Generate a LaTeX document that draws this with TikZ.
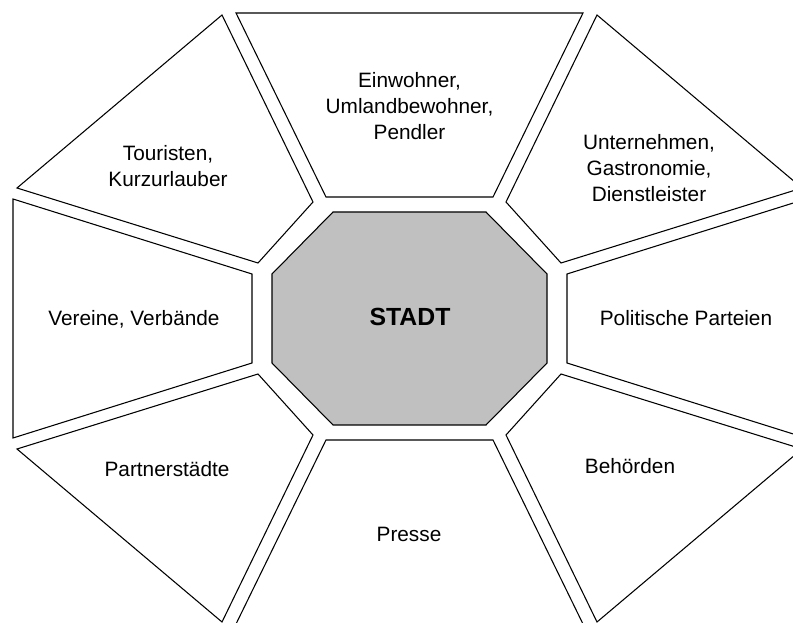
\documentclass[tikz,border=0pt]{standalone}
\usepackage{fontspec}
\setmainfont{Liberation Sans}
\begin{document}
\begin{tikzpicture}[x=0.75pt,y=-0.75pt,
  seg/.style={draw=black,line width=0.8pt,fill=white,line join=miter},
  core/.style={draw=black,line width=0.8pt,fill=corefill,line join=miter},
  lbl/.style={align=center,font=\fontsize{15.6}{19.5}\selectfont,inner sep=0pt},
  corelbl/.style={font=\fontsize{18.6}{22}\selectfont\bfseries,inner sep=0pt}]
\definecolor{corefill}{HTML}{C0C0C0}
\useasboundingbox (0,0) rectangle (793,623);
\clip (0,0) rectangle (793,623);

% central octagon
\path[core] (333,212) -- (486,212) -- (547,274) -- (547,363) -- (486,425)
  -- (333,425) -- (272,363) -- (272,274) -- cycle;

% surrounding segments
\path[seg] (236,13) -- (583,13) -- (493,197) -- (326,197) -- cycle;     % top
\path[seg] (326,440) -- (493,440) -- (583,624) -- (236,624) -- cycle;   % bottom
\path[seg] (13,199) -- (252,274) -- (252,363) -- (13,438) -- cycle;     % left
\path[seg] (806,199) -- (567,274) -- (567,363) -- (806,438) -- cycle;   % right
\path[seg] (222,15) -- (313,202) -- (258,263) -- (17,188) -- cycle;     % upper left
\path[seg] (597,15) -- (506,202) -- (561,263) -- (802,188) -- cycle;    % upper right
\path[seg] (222,622) -- (313,435) -- (258,374) -- (17,449) -- cycle;    % lower left
\path[seg] (597,622) -- (506,435) -- (561,374) -- (802,449) -- cycle;   % lower right

% labels
\node[corelbl] (stadt) at (410,317) {STADT};
\node[lbl] (einw) at (409.5,106) {Einwohner,\\Umlandbewohner,\\Pendler};
\node[lbl] (tour) at (168,166) {Touristen,\\Kurzurlauber};
\node[lbl] (unt) at (649,168) {Unternehmen,\\Gastronomie,\\Dienstleister};
\node[lbl] (ver) at (134,319) {Vereine, Verbände};
\node[lbl] (pol) at (686,318) {Politische Parteien};
\node[lbl] (part) at (167,469) {Partnerstädte};
\node[lbl] (beh) at (630,466) {Behörden};
\node[lbl] (pres) at (409,534) {Presse};
\end{tikzpicture}
\end{document}
